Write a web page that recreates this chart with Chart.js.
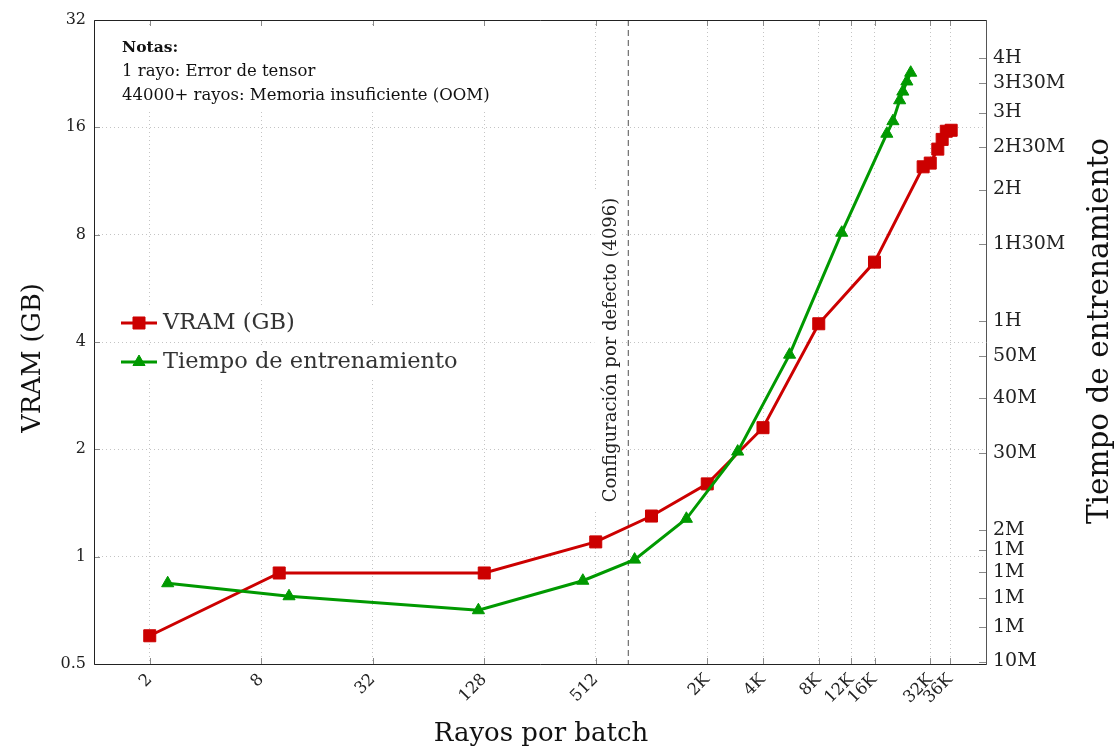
<!DOCTYPE html>
<html>
<head>
<meta charset="utf-8">
<title>VRAM y tiempo de entrenamiento</title>
<script src="https://cdn.jsdelivr.net/npm/chart.js@4.4.1/dist/chart.umd.min.js"></script>
<style>
  body { margin: 0; background: #fff; }
</style>
</head>
<body>
<canvas id="myChart" width="1118" height="751"></canvas>
<script>
// valores
var vramRays = [2, 10, 128, 512, 1024, 2048, 4096, 8192, 16384, 30000, 32768, 36000, 38000, 40000, 42500];
var vramGB = [0.6, 0.9, 0.9, 1.1, 1.3, 1.6, 2.3, 4.5, 6.7, 12.4, 12.7, 13.9, 14.8, 15.6, 15.7];

var timeRays = [2.5, 11.3, 119, 436, 830, 1580, 2990, 5700, 10900, 19100, 20600, 22400, 23300, 24500, 25700];
var timeMin = [15.1, 14.1, 13.1, 15.3, 17.1, 21.2, 30.2, 50.3, 95.6, 161, 172, 192, 201, 212, 222];

var xTicks = [2, 8, 32, 128, 512, 2048, 4096, 8192, 12288, 16384, 32768, 42000];
var xTickLabels = ['2', '8', '32', '128', '512', '2K', '4K', '8K', '12K', '16K', '32K', '36K'];

var vramTicks = [0.5, 1, 2, 4, 8, 16, 32];
var vramTickLabels = ['0.5', '1', '2', '4', '8', '16', '32'];

var timeTicks = [10, 12, 14, 16, 18, 20, 30, 40, 50, 60, 90, 120, 150, 180, 210, 240];
var timeTickLabels = ['10M', '1M', '1M', '1M', '1M', '2M', '30M', '40M', '50M', '1H', '1H30M', '2H', '2H30M', '3H', '3H30M', '4H'];

var defaultRays = 768;
var notes = ['Notas:', '1 rayo: Error de tensor', '44000+ rayos: Memoria insuficiente (OOM)'];

var FONT = 'DejaVu Serif';
var RED = 'rgb(204, 0, 0)';
var GREEN = 'rgb(0, 153, 0)';

function fixTicks(values) {
  return function(scale) {
    scale.ticks = values.map(function(v) { return { value: v }; });
  };
}
function labelFrom(values, labels) {
  return function(value) {
    var i = values.indexOf(value);
    return i < 0 ? '' : labels[i];
  };
}
function fixSize(w, h) {
  return function(scale) {
    if (w) scale.width = w;
    if (h) scale.height = h;
    scale.paddingLeft = scale.paddingRight = scale.paddingTop = scale.paddingBottom = 0;
  };
}
function toPoints(xs, ys) {
  return xs.map(function(x, i) { return { x: x, y: ys[i] }; });
}

var decor = {
  id: 'decor',
  beforeDatasetsDraw: function(chart) {
    var ctx = chart.ctx, a = chart.chartArea;
    var px = chart.scales.x.getPixelForValue(defaultRays);
    ctx.save();

    // cajas blancas (notas, leyenda, etiqueta)
    ctx.fillStyle = '#fff';
    ctx.fillRect(100, 27, 405, 84);
    ctx.fillRect(112, 306, 360, 33);
    ctx.fillRect(112, 346, 360, 33);
    ctx.fillRect(px - 34, 190, 27, 320);

    // linea de configuracion por defecto
    ctx.strokeStyle = '#777';
    ctx.lineWidth = 1.3;
    ctx.setLineDash([6, 4]);
    ctx.beginPath();
    ctx.moveTo(px, a.top);
    ctx.lineTo(px, a.bottom);
    ctx.stroke();
    ctx.setLineDash([]);

    ctx.save();
    ctx.translate(px - 12, 350);
    ctx.rotate(-Math.PI / 2);
    ctx.fillStyle = '#222';
    ctx.font = '18px "' + FONT + '"';
    ctx.textAlign = 'center';
    ctx.textBaseline = 'alphabetic';
    ctx.fillText('Configuración por defecto (4096)', 0, 0);
    ctx.restore();

    // notas
    ctx.fillStyle = '#111';
    ctx.textAlign = 'left';
    ctx.textBaseline = 'middle';
    ctx.font = 'bold 15.5px "' + FONT + '"';
    ctx.fillText(notes[0], 122, 48);
    ctx.font = '16.5px "' + FONT + '"';
    ctx.fillText(notes[1], 122, 72);
    ctx.fillText(notes[2], 122, 96);

    // leyenda
    var ys = [323, 362];
    chart.data.datasets.forEach(function(ds, i) {
      var y = ys[i];
      ctx.strokeStyle = ds.borderColor;
      ctx.lineWidth = 3;
      ctx.beginPath();
      ctx.moveTo(121, y);
      ctx.lineTo(157, y);
      ctx.stroke();
      ctx.fillStyle = ds.backgroundColor;
      ctx.lineWidth = 1;
      Chart.helpers.drawPoint(ctx, { pointStyle: ds.pointStyle, radius: ds.pointRadius, rotation: 0, borderWidth: 1 }, 139, y);
      ctx.fillStyle = '#333';
      ctx.font = '22.5px "' + FONT + '"';
      ctx.textBaseline = 'middle';
      ctx.fillText(ds.label, 163, y);
    });
    ctx.restore();
  },
  afterDraw: function(chart) {
    var ctx = chart.ctx, a = chart.chartArea, s = chart.scales;
    ctx.save();

    // marcas de ejes hacia dentro
    ctx.strokeStyle = '#8a8a8a';
    ctx.lineWidth = 1;
    ctx.beginPath();
    s.x.ticks.forEach(function(t) {
      var p = Math.round(s.x.getPixelForValue(t.value)) + 0.5;
      ctx.moveTo(p, a.bottom); ctx.lineTo(p, a.bottom - 6);
      ctx.moveTo(p, a.top); ctx.lineTo(p, a.top + 6);
    });
    s.y.ticks.forEach(function(t) {
      var p = Math.round(s.y.getPixelForValue(t.value)) + 0.5;
      ctx.moveTo(a.left, p); ctx.lineTo(a.left + 6, p);
    });
    s.y2.ticks.forEach(function(t) {
      var p = Math.round(s.y2.getPixelForValue(t.value)) + 0.5;
      ctx.moveTo(a.right, p); ctx.lineTo(a.right - 7, p);
    });
    ctx.stroke();

    // marco
    ctx.strokeStyle = '#222';
    ctx.beginPath();
    ctx.moveTo(a.right, a.top + 0.5);
    ctx.lineTo(a.left + 0.5, a.top + 0.5);
    ctx.lineTo(a.left + 0.5, a.bottom + 0.5);
    ctx.lineTo(a.right, a.bottom + 0.5);
    ctx.stroke();
    ctx.strokeStyle = '#555';
    ctx.beginPath();
    ctx.moveTo(a.right + 0.5, a.top);
    ctx.lineTo(a.right + 0.5, a.bottom + 1);
    ctx.stroke();

    // titulos de ejes
    ctx.fillStyle = '#111';
    ctx.textAlign = 'center';
    ctx.textBaseline = 'middle';
    ctx.font = '26px "' + FONT + '"';
    ctx.fillText('Rayos por batch', 541, 734);

    ctx.save();
    ctx.translate(33, 358);
    ctx.rotate(-Math.PI / 2);
    ctx.font = '25.5px "' + FONT + '"';
    ctx.fillText('VRAM (GB)', 0, 0);
    ctx.restore();

    ctx.save();
    ctx.translate(1100, 331);
    ctx.rotate(-Math.PI / 2);
    ctx.font = '29.5px "' + FONT + '"';
    ctx.fillText('Tiempo de entrenamiento', 0, 0);
    ctx.restore();

    ctx.restore();
  }
};

var ctx = document.getElementById('myChart').getContext('2d');
var chart = new Chart(ctx, {
  type: 'line',
  data: {
    datasets: [{
      label: 'VRAM (GB)',
      data: toPoints(vramRays, vramGB),
      yAxisID: 'y',
      borderColor: RED,
      backgroundColor: RED,
      pointBorderColor: RED,
      pointBackgroundColor: RED,
      borderWidth: 3,
      pointStyle: 'rect',
      pointRadius: 8.5,
      pointBorderWidth: 1,
      tension: 0,
      order: 1
    }, {
      label: 'Tiempo de entrenamiento',
      data: toPoints(timeRays, timeMin),
      yAxisID: 'y2',
      borderColor: GREEN,
      backgroundColor: GREEN,
      pointBorderColor: GREEN,
      pointBackgroundColor: GREEN,
      borderWidth: 3,
      pointStyle: 'triangle',
      pointRadius: 7,
      pointBorderWidth: 1,
      tension: 0,
      order: 0
    }]
  },
  plugins: [decor],
  options: {
    responsive: false,
    animation: false,
    layout: { padding: { top: 20, left: 0, right: 0, bottom: 0 } },
    plugins: {
      legend: { display: false },
      tooltip: { enabled: false }
    },
    scales: {
      x: {
        type: 'logarithmic',
        position: 'bottom',
        min: 1,
        max: 65536,
        afterBuildTicks: fixTicks(xTicks),
        afterFit: fixSize(null, 87),
        grid: { color: '#c4c4c4', lineWidth: 1, drawTicks: false },
        border: { display: false, dash: [1, 3] },
        ticks: {
          callback: labelFrom(xTicks, xTickLabels),
          autoSkip: false,
          minRotation: 45,
          maxRotation: 45,
          padding: 6,
          color: '#222',
          font: { family: FONT, size: 16.5 }
        }
      },
      y: {
        type: 'logarithmic',
        position: 'left',
        min: 0.5,
        max: 32,
        afterBuildTicks: fixTicks(vramTicks),
        afterFit: fixSize(94, null),
        grid: { color: '#c4c4c4', lineWidth: 1, drawTicks: false },
        border: { display: false, dash: [1, 3] },
        ticks: {
          callback: labelFrom(vramTicks, vramTickLabels),
          autoSkip: false,
          padding: 8,
          color: '#222',
          font: { family: FONT, size: 16 }
        }
      },
      y2: {
        type: 'logarithmic',
        position: 'right',
        min: 9.87,
        max: 293,
        afterBuildTicks: fixTicks(timeTicks),
        afterFit: fixSize(132, null),
        grid: { drawOnChartArea: false, drawTicks: false },
        border: { display: false },
        ticks: {
          callback: labelFrom(timeTicks, timeTickLabels),
          autoSkip: false,
          padding: 7,
          color: '#222',
          font: { family: FONT, size: 19 }
        }
      }
    }
  }
});
</script>
</body>
</html>
